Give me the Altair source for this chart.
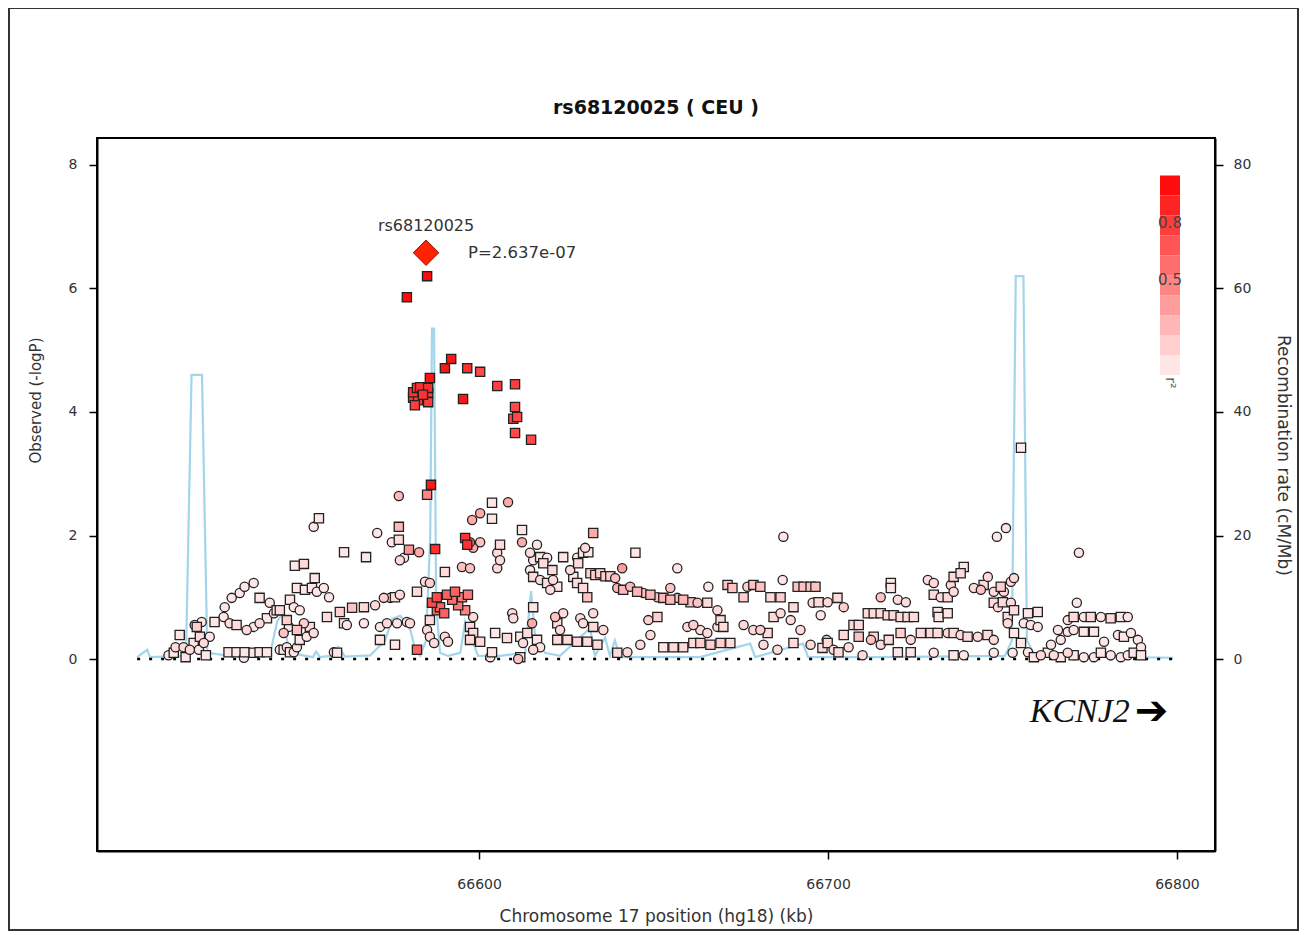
import altair as alt
import pandas as pd

# ---------------- data ----------------
snp_pos = [
    66511.0, 66512.5, 66513.0, 66514.2, 66515.3, 66515.9, 66517.1, 66518.2, 66518.5, 66519.1,
    66519.7, 66520.0, 66520.5, 66521.1, 66521.7, 66522.8,
    66524.2, 66526.8, 66527.1, 66528.2, 66528.5, 66529.1, 66530.5, 66530.5, 66531.4, 66532.6,
    66532.8, 66532.8, 66533.4, 66535.4, 66535.4, 66535.4, 66537.1, 66537.1, 66537.1, 66539.2,
    66539.2, 66540.0, 66541.2, 66542.0, 66542.9, 66542.9, 66544.0, 66544.0, 66544.9, 66544.9,
    66545.5, 66545.8, 66545.8,
    66546.9, 66546.9, 66547.2, 66547.8, 66547.8, 66547.8, 66548.6, 66548.6, 66549.8, 66549.8,
    66550.1, 66550.6, 66551.5, 66552.1, 66552.6, 66552.6, 66552.9, 66553.5, 66554.1, 66555.5,
    66556.4, 66557.0, 66558.4, 66559.3, 66560.1, 66561.3, 66561.3, 66562.1, 66563.6, 66567.0,
    66567.0, 66567.6, 66570.2, 66570.8, 66571.6, 66571.6, 66572.7, 66573.6, 66574.5, 66575.0,
    66575.9, 66575.9, 66576.5, 66577.0, 66577.0, 66577.0, 66577.3, 66577.3, 66578.5, 66579.3,
    66579.9, 66580.2,
    66582.2, 66582.2, 66582.8, 66584.5, 66585.1, 66585.1, 66585.9, 66585.9, 66585.9, 66586.2,
    66586.5, 66587.1, 66587.4, 66587.9, 66587.9, 66588.8, 66590.0, 66590.8, 66592.3, 66593.1,
    66594.0, 66595.1, 66596.0, 66596.8, 66590.2, 66595.1, 66597.4, 66590.2, 66591.1, 66596.0,
    66596.6, 66597.4, 66598.3, 66600.3, 66598.0, 66600.3, 66603.7, 66603.7, 66608.3, 66612.3,
    66612.3, 66598.3, 66597.4, 66598.3, 66597.4, 66600.3, 66603.2, 66603.7, 66604.6, 66605.2,
    66605.2, 66606.0, 66606.0, 66608.0, 66609.5, 66609.8, 66611.2, 66611.8, 66611.8, 66612.6,
    66613.8, 66614.6, 66614.6, 66615.2, 66615.5, 66615.5, 66615.5, 66615.5, 66616.6, 66616.6,
    66617.5, 66617.5, 66617.5, 66618.4, 66619.5, 66619.5, 66620.4, 66621.0, 66621.2, 66621.8,
    66622.4, 66622.4, 66622.4, 66623.2, 66624.1, 66624.1, 66625.3, 66626.1, 66627.0, 66628.1,
    66628.1, 66628.1, 66628.4, 66629.0, 66629.8, 66629.8, 66629.8, 66630.4, 66631.0, 66631.0,
    66631.3, 66631.9, 66632.7, 66632.7, 66632.7, 66633.3, 66633.9, 66634.7, 66635.6, 66636.2,
    66637.6, 66639.0, 66639.6, 66639.6, 66641.0, 66641.3, 66642.5, 66643.3, 66644.8, 66645.3,
    66646.2, 66647.1, 66648.5, 66649.1, 66649.1, 66651.1, 66651.1, 66652.8, 66652.8, 66654.8,
    66654.8, 66655.7, 66656.8, 66656.8, 66658.5, 66658.5, 66659.7, 66660.6, 66661.4, 66661.4,
    66662.6, 66663.4, 66663.4, 66665.4, 66665.4, 66665.7, 66666.3, 66668.3, 66668.3, 66669.2,
    66669.2, 66670.0, 66671.2, 66672.0, 66672.6, 66675.8, 66675.8, 66676.9, 66678.6, 66678.6,
    66680.6, 66680.6, 66681.5, 66682.7, 66683.5, 66684.4, 66685.5, 66686.4, 66686.4, 66687.0,
    66687.2, 66689.3, 66690.1, 66690.1, 66691.3, 66692.1, 66693.0, 66695.0, 66695.0, 66695.6,
    66696.4, 66697.3, 66697.9,
    66698.4, 66699.6, 66699.9, 66699.9, 66701.6, 66702.7, 66703.0, 66704.5, 66704.5, 66705.9,
    66707.3, 66708.8, 66708.8, 66709.9, 66711.4, 66712.3, 66713.1, 66713.1, 66715.1, 66715.1,
    66715.1, 66717.1, 66717.4, 66718.0, 66718.0, 66718.8, 66720.0, 66720.0, 66720.8, 66720.8,
    66722.3, 66722.8, 66723.7, 66723.7, 66724.6, 66726.6, 66728.6, 66729.4, 66730.3, 66730.3,
    66730.3, 66731.4, 66731.4, 66731.7, 66732.3, 66734.3, 66734.3, 66734.3, 66735.2, 66736.0,
    66736.0, 66736.0, 66736.0, 66738.0, 66738.0, 66738.9, 66738.9, 66740.0, 66741.8, 66742.9,
    66743.8, 66744.6, 66745.7, 66745.8, 66747.5, 66747.5, 66747.5, 66747.5, 66748.4, 66748.7,
    66749.5, 66750.1, 66750.4, 66751.0, 66751.5, 66751.5, 66752.4, 66752.4, 66752.9, 66753.3,
    66753.3, 66753.3, 66755.3, 66755.3, 66756.1, 66757.3, 66757.3, 66758.1, 66759.0, 66760.1,
    66760.1, 66761.0, 66763.0, 66763.9, 66764.7, 66765.9, 66766.7, 66766.7, 66768.7, 66768.7,
    66768.7, 66770.4, 66770.4, 66770.4, 66771.3, 66771.9, 66773.3, 66773.3, 66773.3, 66775.3,
    66776.2, 66776.2, 66778.2, 66778.2, 66779.1, 66781.0, 66781.0, 66783.1, 66783.9, 66783.9,
    66784.8, 66785.9, 66785.9, 66786.8, 66787.6, 66788.8, 66789.7, 66789.7,
    66581.1, 66582.2, 66583.1, 66583.9, 66585.4, 66585.4, 66581.1, 66582.5, 66583.9, 66581.6,
    66585.4, 66585.9, 66590.2, 66592.0, 66596.6, 66600.3, 66605.2, 66610.3, 66595.4, 66610.3,
    66609.8, 66610.9, 66610.3, 66614.9, 66585.1, 66579.3,
]
snp_logp = [
    0.06, 0.10, 0.19, 0.39, 0.19, 0.03, 0.15, 0.26, 0.55, 0.52,
    0.15, 0.36, 0.60, 0.26, 0.06, 0.36,
    0.60, 0.68, 0.84, 0.11, 0.58, 0.99, 0.55, 0.11, 1.07, 0.02,
    1.17, 0.11, 0.47, 1.23, 0.52, 0.10, 0.99, 0.58, 0.11, 0.66,
    0.11, 0.91, 0.74, 0.79, 0.79, 0.15, 0.42, 0.15, 0.63, 0.19,
    0.52, 0.96, 0.11,
    0.84, 0.11, 1.51, 1.15, 0.47, 0.19, 0.79, 0.31, 1.54, 0.58,
    1.12, 0.36, 0.52, 1.15, 2.14, 0.42, 1.31, 1.09, 2.28, 1.15,
    0.68, 1.00, 0.11, 0.10, 0.76, 1.73, 0.58, 0.55, 0.83, 0.84,
    0.58, 1.65, 0.87, 2.04, 0.52, 0.31, 0.99, 0.58, 0.99, 1.89,
    1.00, 0.23, 0.58, 2.64, 2.14, 1.93, 1.60, 1.04, 1.64, 0.60,
    1.77, 0.58,
    1.09, 0.15, 1.73, 1.25, 2.66, 0.47, 1.23, 0.63, 0.36, 2.82,
    0.91, 0.26, 1.78, 1.00, 0.79, 0.84, 0.74, 1.04, 0.96, 1.09,
    0.87, 1.00, 0.79, 1.04, 1.41, 1.49, 1.47, 0.36, 0.28, 1.96,
    1.85, 1.89, 1.80, 1.89, 2.25, 2.36, 2.53, 2.27, 2.54, 2.09,
    1.89, 0.68, 0.52, 0.42, 0.31, 0.28, 0.03, 0.11, 0.42, 1.72,
    1.47, 1.85, 1.60, 0.34, 0.74, 0.66, 0.00, 0.36, 0.03, 0.26,
    0.42, 1.72, 1.44, 0.58, 1.60, 1.33, 0.84, 0.15, 1.85, 0.31,
    1.65, 1.28, 0.19, 1.55, 1.64, 1.23, 1.12, 1.44, 1.28, 0.68,
    1.17, 0.58, 0.31, 0.47, 1.65, 0.74, 0.31, 1.44, 1.33, 1.64,
    1.23, 0.28, 1.55, 0.66, 1.72, 1.15, 0.58, 1.80, 1.00, 0.28,
    1.73, 1.39, 2.04, 0.74, 0.52, 1.36, 0.23, 1.39, 0.47, 1.34,
    1.34, 1.31, 1.15, 0.10, 1.47, 1.12, 0.11, 1.17, 1.72, 1.09,
    0.23, 1.07, 0.63, 1.04, 0.39, 1.00, 0.68, 0.99, 0.19, 1.15,
    0.96, 0.19, 1.47, 0.99, 0.96, 0.19, 0.52, 0.92, 0.55, 0.26,
    0.91, 0.47, 0.26, 0.91, 0.42, 1.17, 0.23, 0.79, 0.52, 0.63,
    0.26, 0.52, 1.20, 0.26, 1.15, 1.00, 0.55, 1.17, 1.20, 0.47,
    1.17, 0.47, 0.23, 0.42, 1.00, 0.68, 0.15, 1.00, 0.74, 1.28,
    1.98, 0.63, 0.84, 0.26, 1.17, 0.47, 1.17, 1.17, 0.23, 0.91,
    1.17, 0.92, 0.71,
    0.18, 0.31, 0.92, 0.26, 0.15, 0.99, 0.11, 0.84, 0.39, 0.19,
    0.55, 0.55, 0.36, 0.06, 0.74, 0.31, 0.74, 0.36, 1.00, 0.74,
    0.23, 0.71, 0.31, 1.23, 1.15, 0.71, 0.96, 0.11, 0.68, 0.42,
    0.92, 0.68, 0.11, 0.31, 0.68, 0.42, 1.28, 0.42, 1.23, 1.04,
    0.10, 0.76, 0.42, 0.68, 1.00, 1.00, 0.74, 0.42, 1.20, 1.33,
    1.09, 0.42, 0.06, 1.39, 0.39, 1.49, 0.06, 0.36, 1.15, 0.36,
    1.12, 1.20, 0.39, 1.33, 1.09, 0.91, 0.31, 0.10, 1.98, 0.84,
    1.17, 0.92, 1.09, 2.12, 0.68, 0.58, 1.25, 0.91, 0.10, 1.31,
    0.79, 0.42, 3.42, 0.26, 0.58, 0.74, 0.11, 0.55, 0.03, 0.76,
    0.52, 0.06, 0.10, 0.23, 0.06, 0.47, 0.03, 0.31, 0.63, 0.44,
    0.10, 0.68, 0.47, 0.06, 0.91, 1.72, 0.68, 0.44, 0.03, 0.68,
    0.44, 0.03, 0.68, 0.10, 0.28, 0.66, 0.06, 0.39, 0.68, 0.03,
    0.36, 0.68, 0.06, 0.42, 0.10, 0.31, 0.19, 0.06,
    4.32, 4.39, 4.40, 4.36, 4.39, 4.31, 4.23, 4.19, 4.28, 4.11,
    4.16, 4.55, 4.71, 4.86, 4.71, 4.65, 4.42, 4.45, 4.21, 4.08,
    3.89, 3.92, 3.66, 3.55, 6.20, 5.86,
]
snp_r2 = [
    0.05, 0.05, 0.10, 0.05, 0.10, 0.05, 0.10, 0.05, 0.10, 0.15,
    0.05, 0.10, 0.05, 0.10, 0.05, 0.05,
    0.05, 0.05, 0.05, 0.05, 0.10, 0.05, 0.10, 0.05, 0.05, 0.05,
    0.05, 0.05, 0.10, 0.05, 0.05, 0.05, 0.05, 0.10, 0.05, 0.05,
    0.05, 0.05, 0.05, 0.05, 0.10, 0.05, 0.20, 0.05, 0.15, 0.05,
    0.05, 0.05, 0.05,
    0.05, 0.05, 0.05, 0.05, 0.20, 0.05, 0.05, 0.05, 0.10, 0.15,
    0.05, 0.05, 0.10, 0.05, 0.05, 0.10, 0.05, 0.05, 0.05, 0.05,
    0.10, 0.05, 0.05, 0.05, 0.15, 0.05, 0.05, 0.05, 0.20, 0.10,
    0.05, 0.05, 0.10, 0.05, 0.05, 0.05, 0.15, 0.10, 0.10, 0.05,
    0.10, 0.05, 0.05, 0.25, 0.25, 0.10, 0.10, 0.10, 0.05, 0.05,
    0.40, 0.10,
    0.10, 0.60, 0.30, 0.10, 0.45, 0.10, 0.15, 0.10, 0.10, 0.90,
    0.70, 0.10, 0.80, 0.70, 0.60, 0.60, 0.60, 0.60, 0.55, 0.60,
    0.50, 0.50, 0.45, 0.50, 0.10, 0.20, 0.20, 0.10, 0.10, 0.80,
    0.80, 0.55, 0.30, 0.20, 0.30, 0.30, 0.05, 0.05, 0.30, 0.05,
    0.30, 0.10, 0.10, 0.10, 0.10, 0.10, 0.05, 0.05, 0.05, 0.10,
    0.10, 0.10, 0.10, 0.10, 0.10, 0.10, 0.20, 0.05, 0.05, 0.10,
    0.10, 0.10, 0.05, 0.30, 0.05, 0.10, 0.05, 0.10, 0.05, 0.05,
    0.05, 0.10, 0.05, 0.10, 0.05, 0.10, 0.10, 0.10, 0.10, 0.20,
    0.05, 0.10, 0.10, 0.10, 0.05, 0.10, 0.10, 0.10, 0.05, 0.05,
    0.10, 0.10, 0.10, 0.10, 0.05, 0.10, 0.10, 0.10, 0.20, 0.10,
    0.05, 0.15, 0.30, 0.10, 0.10, 0.15, 0.10, 0.15, 0.10, 0.15,
    0.15, 0.20, 0.25, 0.10, 0.35, 0.25, 0.10, 0.25, 0.05, 0.25,
    0.10, 0.20, 0.15, 0.25, 0.10, 0.20, 0.15, 0.25, 0.05, 0.20,
    0.25, 0.10, 0.05, 0.20, 0.25, 0.10, 0.10, 0.20, 0.15, 0.10,
    0.20, 0.10, 0.15, 0.10, 0.10, 0.05, 0.15, 0.10, 0.10, 0.10,
    0.15, 0.10, 0.20, 0.10, 0.20, 0.15, 0.10, 0.15, 0.20, 0.10,
    0.20, 0.15, 0.10, 0.10, 0.10, 0.10, 0.10, 0.15, 0.10, 0.05,
    0.05, 0.10, 0.10, 0.10, 0.20, 0.10, 0.20, 0.20, 0.10, 0.10,
    0.20, 0.10, 0.05,
    0.10, 0.10, 0.10, 0.10, 0.10, 0.10, 0.10, 0.15, 0.10, 0.10,
    0.10, 0.10, 0.20, 0.10, 0.10, 0.20, 0.10, 0.10, 0.20, 0.10,
    0.10, 0.10, 0.10, 0.05, 0.05, 0.10, 0.10, 0.05, 0.10, 0.15,
    0.10, 0.10, 0.05, 0.10, 0.10, 0.10, 0.10, 0.10, 0.10, 0.10,
    0.05, 0.05, 0.10, 0.05, 0.10, 0.10, 0.05, 0.10, 0.10, 0.10,
    0.10, 0.10, 0.05, 0.10, 0.10, 0.05, 0.05, 0.10, 0.10, 0.10,
    0.20, 0.10, 0.10, 0.10, 0.10, 0.10, 0.10, 0.05, 0.05, 0.10,
    0.15, 0.10, 0.10, 0.05, 0.10, 0.10, 0.10, 0.10, 0.05, 0.10,
    0.10, 0.05, 0.02, 0.05, 0.05, 0.05, 0.05, 0.05, 0.05, 0.05,
    0.05, 0.10, 0.05, 0.05, 0.10, 0.05, 0.05, 0.05, 0.05, 0.05,
    0.10, 0.10, 0.05, 0.05, 0.05, 0.05, 0.05, 0.05, 0.05, 0.10,
    0.05, 0.05, 0.05, 0.05, 0.05, 0.10, 0.05, 0.05, 0.05, 0.05,
    0.05, 0.05, 0.05, 0.05, 0.05, 0.05, 0.05, 0.05,
    0.80, 0.80, 0.80, 0.75, 0.80, 0.75, 0.75, 0.75, 0.80, 0.75,
    0.75, 0.92, 0.92, 0.92, 0.80, 0.70, 0.75, 0.75, 0.92, 0.70,
    0.70, 0.70, 0.70, 0.70, 0.95, 0.95,
]
snp_shape = [
    "c", "s", "c", "s", "c", "s", "c", "s", "c", "s",
    "c", "s", "c", "c", "s", "c",
    "s", "c", "c", "s", "c", "c", "s", "s", "c", "c",
    "c", "s", "c", "c", "c", "s", "s", "c", "s", "s",
    "s", "c", "c", "s", "s", "c", "c", "s", "s", "c",
    "c", "s", "s",
    "c", "c", "s", "s", "s", "c", "c", "s", "s", "c",
    "s", "c", "s", "s", "c", "c", "s", "c", "s", "c",
    "s", "c", "c", "s", "s", "s", "s", "c", "s", "s",
    "c", "s", "c", "c", "c", "s", "c", "c", "c", "c",
    "s", "s", "c", "c", "s", "s", "c", "c", "c", "c",
    "s", "c",
    "s", "s", "c", "c", "s", "c", "c", "s", "c", "s",
    "s", "c", "s", "s", "s", "s", "s", "s", "s", "s",
    "s", "s", "s", "s", "s", "c", "c", "c", "c", "s",
    "s", "c", "c", "c", "c", "c", "s", "s", "c", "s",
    "c", "c", "s", "s", "s", "s", "c", "s", "s", "c",
    "c", "s", "c", "s", "c", "c", "c", "s", "s", "c",
    "s", "c", "c", "c", "c", "s", "s", "c", "c", "s",
    "s", "c", "c", "s", "c", "s", "c", "s", "c", "c",
    "s", "s", "s", "c", "s", "c", "s", "c", "s", "c",
    "s", "s", "s", "c", "s", "s", "c", "c", "s", "s",
    "s", "s", "s", "c", "s", "s", "s", "s", "c", "s",
    "s", "c", "c", "s", "c", "s", "c", "c", "s", "s",
    "c", "c", "c", "s", "c", "c", "s", "s", "s", "c",
    "s", "s", "c", "c", "s", "s", "c", "s", "c", "s",
    "c", "c", "s", "s", "c", "c", "s", "c", "c", "s",
    "s", "s", "s", "s", "s", "s", "c", "c", "s", "c",
    "s", "c", "c", "s", "s", "s", "c", "s", "c", "c",
    "c", "c", "s", "s", "s", "c", "s", "s", "c", "c",
    "s", "s", "c",
    "s", "c", "c", "s", "c", "s", "s", "c", "s", "c",
    "s", "s", "s", "c", "s", "c", "s", "s", "c", "s",
    "c", "s", "s", "s", "s", "s", "c", "s", "s", "s",
    "c", "s", "s", "c", "s", "s", "c", "s", "c", "s",
    "c", "s", "s", "s", "c", "s", "s", "c", "c", "s",
    "c", "s", "s", "s", "c", "s", "c", "s", "c", "c",
    "c", "s", "s", "c", "c", "s", "c", "c", "c", "c",
    "s", "s", "c", "c", "s", "c", "c", "c", "c", "c",
    "s", "s", "s", "s", "c", "s", "c", "c", "s", "s",
    "c", "c", "s", "c", "c", "c", "s", "c", "c", "c",
    "c", "s", "c", "s", "c", "c", "c", "s", "c", "s",
    "s", "c", "c", "s", "c", "s", "c", "c", "s", "c",
    "s", "c", "c", "c", "s", "c", "c", "s",
    "s", "s", "s", "s", "s", "s", "s", "s", "s", "s",
    "s", "s", "s", "s", "s", "s", "s", "s", "s", "s",
    "s", "s", "s", "s", "s", "s",
]

lead_pos = [66584.8]
lead_logp = [6.579]
lead_name = ["rs68120025"]
lead_pval = ["P=2.637e-07"]

recomb_pos = [
    66502.0, 66504.9, 66505.7, 66516.0, 66517.6, 66520.6, 66522.1, 66528.7, 66540.1, 66542.1,
    66543.6, 66545.6, 66552.4, 66553.3, 66554.4, 66557.3, 66559.6, 66561.6, 66568.8, 66573.1,
    66575.1, 66577.4, 66580.2, 66581.7, 66583.1, 66584.8, 66586.0, 66586.5, 66587.1, 66587.7,
    66588.8, 66591.1, 66594.6, 66596.0, 66597.4, 66599.7, 66606.0, 66613.2, 66614.9, 66616.0,
    66618.9, 66623.2, 66631.8, 66633.2, 66636.1, 66637.5, 66638.9, 66640.4, 66663.3, 66677.7,
    66679.1, 66692.8, 66694.3, 66714.9, 66750.7, 66752.7, 66753.8, 66756.0, 66757.0, 66759.3,
    66798.9,
]
recomb_rate = [
    0.3, 1.5, 0.3, 0.5, 46.0, 46.0, 1.0, 0.5, 0.8, 6.0,
    7.5, 1.0, 0.3, 1.2, 0.3, 0.5, 2.0, 0.4, 0.6, 3.0,
    6.5, 7.0, 5.0, 1.5, 0.5, 3.0, 20.0, 53.5, 53.5, 9.0,
    1.0, 0.5, 1.0, 6.0, 4.0, 0.5, 0.5, 1.0, 11.0, 4.0,
    1.0, 0.5, 5.0, 0.5, 3.5, 0.5, 3.0, 0.3, 0.3, 2.5,
    0.3, 2.5, 0.3, 0.3, 0.5, 3.0, 62.0, 62.0, 3.0, 0.5,
    0.2,
]

baseline_pos = [66502.0, 66799.0]
baseline_val = [0.0, 0.0]

gene_name = ["KCNJ2"]
gene_pos = [66786.5]
gene_y = [-0.86]

legend_lo = [0.0, 0.105, 0.21, 0.315, 0.42, 0.525, 0.63, 0.735, 0.84, 0.945]
legend_hi = [0.105, 0.21, 0.315, 0.42, 0.525, 0.63, 0.735, 0.84, 0.945, 1.05]
legend_mid = [0.05, 0.15, 0.25, 0.35, 0.45, 0.55, 0.65, 0.75, 0.85, 0.95]
legend_labels = ["0.8", "0.5"]
legend_label_at = [0.8, 0.5]

chart_title = ["rs68120025 ( CEU )"]

y_ticks = [0, 2, 4, 6, 8]
r_ticks = [0, 20, 40, 60, 80]
x_ticks = [66600, 66700, 66800]

X_DOMAIN = [66490.5, 66810.9]
Y_DOMAIN = [-3.109, 8.437]
R_DOMAIN = [-31.09, 84.37]

FONT = "DejaVu Sans"
TXT = "#333333"

# ---------------- frames ----------------
snps = pd.DataFrame({"pos": snp_pos, "logp": snp_logp, "r2": snp_r2, "shape": snp_shape})
snps = snps.sort_values("r2", kind="stable")
lead = pd.DataFrame({"pos": lead_pos, "logp": lead_logp, "name": lead_name, "pval": lead_pval})
recomb = pd.DataFrame({"pos": recomb_pos, "rate": recomb_rate})
base = pd.DataFrame({"pos": baseline_pos, "logp": baseline_val})
gene = pd.DataFrame({"pos": gene_pos, "logp": gene_y, "name": gene_name})
leg = pd.DataFrame({"lo": legend_lo, "hi": legend_hi, "r2": legend_mid})
leg_txt = pd.DataFrame({"v": legend_label_at, "t": legend_labels})
ttl = pd.DataFrame({"t": chart_title})
one = pd.DataFrame({"k": [1]})

xs = alt.Scale(domain=X_DOMAIN, nice=False, zero=False)
ys = alt.Scale(domain=Y_DOMAIN, nice=False, zero=False)
rs = alt.Scale(domain=R_DOMAIN, nice=False, zero=False)
cs = alt.Scale(domain=[0, 1], range=["#fff2f2", "#ff0000"], interpolate="rgb")
ls = alt.Scale(domain=[0, 1], range=[237, 47], nice=False, zero=False)

x_axis = alt.Axis(values=x_ticks, format="d", title="Chromosome 17 position (hg18) (kb)",
                  grid=False, tickSize=8, tickColor="black", tickWidth=1.5,
                  domainColor="black", domainWidth=2, labelFont=FONT, labelFontSize=14,
                  labelColor=TXT, labelPadding=18, titleFont=FONT, titleFontSize=17,
                  titleFontWeight="normal", titleColor=TXT, titleY=65, titleBaseline="middle")
y_axis = alt.Axis(values=y_ticks, orient="left", title="Observed (-logP)", grid=False,
                  tickSize=8, tickColor="black", tickWidth=1.5, domainColor="black",
                  domainWidth=2, labelFont=FONT, labelFontSize=14, labelColor=TXT,
                  labelPadding=12, titleFont=FONT, titleFontSize=15, titleFontWeight="normal",
                  titleColor=TXT, titleX=-62, titleY=262, titleAngle=-90,
                  titleBaseline="middle", titleAlign="center")
r_axis = alt.Axis(values=r_ticks, orient="right", title="Recombination rate (cM/Mb)", grid=False,
                  tickSize=8, tickColor="black", tickWidth=1.5, domainColor="black",
                  domainWidth=2, labelFont=FONT, labelFontSize=14, labelColor=TXT,
                  labelPadding=10, titleFont=FONT, titleFontSize=17, titleFontWeight="normal",
                  titleColor=TXT, titleX=67, titleY=317, titleAngle=90,
                  titleBaseline="middle", titleAlign="center")

X = alt.X("pos:Q", scale=xs, axis=x_axis)

frame = alt.Chart(one).mark_rect(fill="white", fillOpacity=0, stroke="#333333", strokeWidth=2).encode(
    x=alt.value(-88), x2=alt.value(1201), y=alt.value(-130), y2=alt.value(792))

title_txt = alt.Chart(ttl).mark_text(font=FONT, fontSize=19, fontWeight="bold", color="#111111",
                                     baseline="middle").encode(
    x=alt.value(559), y=alt.value(-30), text="t:N")

recomb_line = alt.Chart(recomb).mark_line(color="#a3d5eb", strokeWidth=2.2).encode(
    x=X, y=alt.Y("rate:Q", scale=rs, axis=r_axis))

baseline = alt.Chart(base).mark_line(color="black", strokeWidth=2.5, strokeDash=[3, 9]).encode(
    x=X, y=alt.Y("logp:Q", scale=ys, axis=y_axis))

points = alt.Chart(snps).mark_point(filled=True, size=85, stroke="#222222", strokeWidth=1.3,
                                    opacity=1).encode(
    x=X,
    y=alt.Y("logp:Q", scale=ys, axis=None),
    fill=alt.Fill("r2:Q", scale=cs, legend=None),
    shape=alt.Shape("shape:N", scale=alt.Scale(domain=["s", "c"], range=["square", "circle"]),
                    legend=None))

lead_pt = alt.Chart(lead).mark_point(shape="diamond", filled=True, size=650, fill="#ff2200",
                                     stroke="#8b1a00", strokeWidth=1, opacity=1).encode(
    x=X, y=alt.Y("logp:Q", scale=ys, axis=None))

lead_name_txt = alt.Chart(lead).mark_text(font=FONT, fontSize=16, color=TXT, dy=-27).encode(
    x=X, y=alt.Y("logp:Q", scale=ys, axis=None), text="name:N")

lead_p_txt = alt.Chart(lead).mark_text(font=FONT, fontSize=16.5, color=TXT, align="left", dx=42).encode(
    x=X, y=alt.Y("logp:Q", scale=ys, axis=None), text="pval:N")

gene_txt = alt.Chart(gene).mark_text(font="Liberation Serif", fontStyle="italic", fontSize=34,
                                     color="#111111", align="right").encode(
    x=X, y=alt.Y("logp:Q", scale=ys, axis=None), text="name:N")

gene_arrow = alt.Chart(gene).mark_text(font="DejaVu Sans", fontSize=40, color="black",
                                       align="left", dx=5, text="\u2794").encode(
    x=X, y=alt.Y("logp:Q", scale=ys, axis=None))

legend_bar = alt.Chart(leg).mark_rect().encode(
    x=alt.value(1063), x2=alt.value(1083),
    y=alt.Y("lo:Q", scale=ls, axis=None), y2="hi:Q",
    fill=alt.Fill("r2:Q", scale=cs, legend=None))

legend_txt = alt.Chart(leg_txt).mark_text(font=FONT, fontSize=15, color="#444444").encode(
    x=alt.value(1073),
    y=alt.Y("v:Q", scale=ls, axis=None),
    text="t:N")

legend_title = alt.Chart(one).mark_text(font=FONT, fontSize=14, color="#555555", angle=90,
                                        text="r\u00b2").encode(
    x=alt.value(1073), y=alt.value(245))

chart = alt.layer(
    frame, title_txt, recomb_line, baseline, points, lead_pt, lead_name_txt, lead_p_txt,
    gene_txt, gene_arrow, legend_bar, legend_txt, legend_title,
).resolve_scale(y="independent").properties(
    width=1118, height=713,
    autosize=alt.AutoSizeParams(type="none"),
    padding={"left": 89, "top": 130, "right": 84, "bottom": 80},
    background="white",
).configure_view(stroke="black", strokeWidth=2)

chart.save("out.html", embed_options={"renderer": "svg", "actions": False})
